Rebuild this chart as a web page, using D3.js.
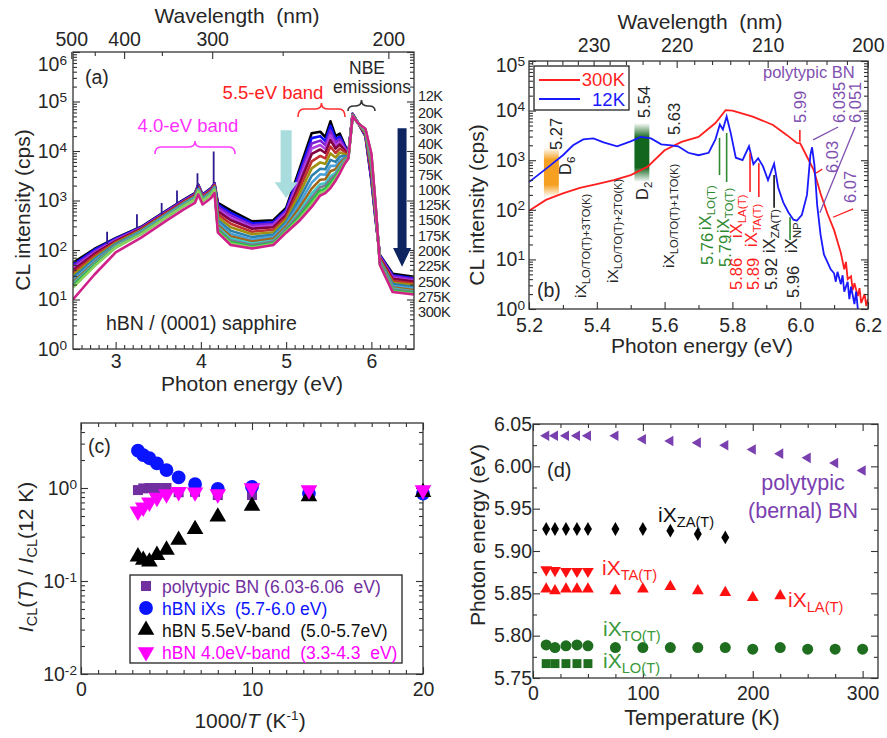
<!DOCTYPE html>
<html>
<head>
<meta charset="utf-8">
<script src="https://cdn.jsdelivr.net/npm/d3@7"></script>
<style>
body { margin: 0; background: #fff; }
svg { font-family: "Liberation Sans", Arial, sans-serif; }
svg text { white-space: pre; }
.ax path { display: none; }
.ax line { stroke: #333; stroke-width: 1.1; }
.ax text { font-size: 19.5px; font-family: "Liberation Sans", Arial, sans-serif; fill: #262626; }
</style>
</head>
<body>
<svg id="fig" width="887" height="738"></svg>
<script>
var INK = "#262626";
var GREEN = "#2f8a2f", RED = "#ff1f1f", PURPLE = "#8050b0";

// ---------- (a) temperature-dependent CL spectra, log10(cps) ----------
var tempLabels = ["12K", "20K", "30K", "40K", "50K", "75K", "100K", "125K", "150K", "175K", "200K", "225K", "250K", "275K", "300K"];
var tempColors = ["#000000", "#1010ff", "#8020d0", "#b040e0", "#800040", "#c03030", "#a09010", "#2c7fa8",
                  "#4aa0d8", "#a0661a", "#40c8c8", "#7a7a90", "#20c040", "#8ad060", "#d0208a"];
var energyA = [2.5, 2.75, 3.0, 3.3, 3.6, 3.8, 3.93, 3.97, 4.02, 4.12, 4.16, 4.2, 4.35, 4.6, 4.85, 5.0, 5.15,
               5.3, 5.4, 5.46, 5.52, 5.58, 5.63, 5.68, 5.73, 5.78, 5.85, 5.93, 6.0, 6.05, 6.1, 6.25, 6.5];
var cl12 = [1.74, 2.02, 2.24, 2.47, 2.8, 3.02, 3.15, 3.32, 3.12, 3.25, 3.35, 2.95, 2.8, 2.58, 2.6, 2.85, 3.6, 4.36, 4.39, 4.28, 4.6, 4.3, 4.35, 4.15, 3.95, 4.75, 4.55, 4.3, 3.4, 2.6, 1.9, 1.52, 1.46];
var cl20 = [1.70, 2.00, 2.23, 2.46, 2.79, 3.01, 3.14, 3.31, 3.11, 3.24, 3.34, 2.91, 2.75, 2.54, 2.56, 2.81, 3.53, 4.26, 4.30, 4.20, 4.51, 4.24, 4.29, 4.12, 3.94, 4.75, 4.55, 4.31, 3.44, 2.62, 1.89, 1.49, 1.43];
var cl30 = [1.67, 1.97, 2.21, 2.45, 2.78, 3.00, 3.13, 3.30, 3.10, 3.23, 3.33, 2.87, 2.70, 2.50, 2.53, 2.78, 3.46, 4.15, 4.21, 4.12, 4.41, 4.17, 4.24, 4.09, 3.94, 4.74, 4.55, 4.32, 3.48, 2.64, 1.87, 1.47, 1.41];
var cl40 = [1.63, 1.94, 2.20, 2.44, 2.77, 2.99, 3.12, 3.29, 3.09, 3.22, 3.32, 2.82, 2.65, 2.46, 2.50, 2.75, 3.39, 4.05, 4.12, 4.04, 4.32, 4.11, 4.18, 4.06, 3.93, 4.74, 4.55, 4.33, 3.52, 2.66, 1.86, 1.44, 1.38];
var cl50 = [1.59, 1.92, 2.18, 2.43, 2.76, 2.98, 3.11, 3.28, 3.08, 3.21, 3.31, 2.78, 2.60, 2.43, 2.46, 2.71, 3.31, 3.94, 4.03, 3.96, 4.22, 4.05, 4.13, 4.03, 3.92, 4.74, 4.55, 4.34, 3.55, 2.68, 1.84, 1.42, 1.36];
var cl75 = [1.54, 1.88, 2.16, 2.41, 2.75, 2.97, 3.10, 3.27, 3.07, 3.20, 3.30, 2.72, 2.53, 2.37, 2.41, 2.66, 3.21, 3.79, 3.90, 3.85, 4.09, 3.96, 4.05, 3.99, 3.91, 4.73, 4.55, 4.36, 3.61, 2.71, 1.82, 1.38, 1.32];
var cl100 = [1.49, 1.84, 2.14, 2.40, 2.73, 2.95, 3.08, 3.25, 3.05, 3.18, 3.28, 2.66, 2.46, 2.32, 2.36, 2.61, 3.11, 3.65, 3.77, 3.74, 3.95, 3.87, 3.97, 3.94, 3.90, 4.73, 4.55, 4.37, 3.66, 2.74, 1.80, 1.34, 1.29];
var cl125 = [1.44, 1.81, 2.12, 2.38, 2.72, 2.94, 3.07, 3.24, 3.04, 3.17, 3.27, 2.60, 2.39, 2.26, 2.31, 2.56, 3.01, 3.50, 3.64, 3.63, 3.82, 3.78, 3.89, 3.90, 3.89, 4.72, 4.55, 4.39, 3.72, 2.77, 1.78, 1.31, 1.25];
var cl150 = [1.39, 1.78, 2.10, 2.37, 2.71, 2.93, 3.06, 3.23, 3.03, 3.16, 3.26, 2.55, 2.33, 2.21, 2.27, 2.52, 2.92, 3.36, 3.53, 3.52, 3.70, 3.70, 3.81, 3.86, 3.88, 4.72, 4.55, 4.40, 3.77, 2.80, 1.77, 1.27, 1.22];
var cl175 = [1.35, 1.74, 2.09, 2.35, 2.69, 2.91, 3.04, 3.21, 3.01, 3.14, 3.24, 2.50, 2.28, 2.17, 2.23, 2.48, 2.84, 3.24, 3.42, 3.43, 3.59, 3.63, 3.75, 3.83, 3.88, 4.71, 4.55, 4.41, 3.81, 2.83, 1.75, 1.24, 1.19];
var cl200 = [1.32, 1.72, 2.08, 2.35, 2.69, 2.91, 3.04, 3.21, 3.01, 3.14, 3.24, 2.46, 2.23, 2.13, 2.19, 2.44, 2.76, 3.14, 3.33, 3.35, 3.49, 3.56, 3.69, 3.80, 3.87, 4.71, 4.55, 4.42, 3.85, 2.85, 1.74, 1.22, 1.16];
var cl225 = [1.29, 1.70, 2.06, 2.34, 2.68, 2.90, 3.03, 3.20, 3.00, 3.13, 3.23, 2.43, 2.19, 2.10, 2.17, 2.42, 2.71, 3.06, 3.27, 3.30, 3.43, 3.52, 3.65, 3.78, 3.86, 4.71, 4.55, 4.43, 3.88, 2.86, 1.73, 1.20, 1.15];
var cl250 = [1.27, 1.69, 2.05, 2.33, 2.67, 2.89, 3.02, 3.19, 2.99, 3.12, 3.22, 2.40, 2.16, 2.07, 2.14, 2.39, 2.66, 2.99, 3.20, 3.24, 3.36, 3.47, 3.61, 3.75, 3.86, 4.70, 4.55, 4.44, 3.91, 2.88, 1.72, 1.18, 1.13];
var cl275 = [1.24, 1.67, 2.05, 2.32, 2.67, 2.89, 3.02, 3.19, 2.99, 3.12, 3.22, 2.37, 2.13, 2.05, 2.12, 2.37, 2.62, 2.93, 3.15, 3.19, 3.30, 3.44, 3.58, 3.74, 3.85, 4.70, 4.55, 4.44, 3.93, 2.89, 1.71, 1.16, 1.11];
var cl300 = [1.0, 1.5, 1.95, 2.25, 2.6, 2.82, 2.95, 3.12, 2.92, 3.05, 3.15, 2.35, 2.1, 2.03, 2.1, 2.35, 2.58, 2.87, 3.1, 3.15, 3.25, 3.4, 3.55, 3.72, 3.85, 4.7, 4.55, 4.45, 3.95, 2.9, 1.7, 1.15, 1.1];
var spectraA = [cl12, cl20, cl30, cl40, cl50, cl75, cl100, cl125, cl150, cl175, cl200, cl225, cl250, cl275, cl300];
// narrow spikes on the low-energy side
var spikeE = [2.9, 3.25, 3.54, 3.72, 3.96, 4.15];
var spikeBase = [2.12, 2.45, 2.72, 2.95, 3.25, 3.35];
var spikeTop = [2.37, 2.72, 2.95, 3.2, 3.55, 3.99];
var nmTicksA = [500, 400, 300, 200];

// ---------- (b) 12K vs 300K ----------
var blueE = [5.2, 5.23, 5.26, 5.3, 5.33, 5.36, 5.39, 5.42, 5.46, 5.5, 5.53, 5.56, 5.59, 5.62, 5.64, 5.67, 5.7, 5.73, 5.75,
             5.763, 5.772, 5.783, 5.795, 5.81, 5.83, 5.849, 5.862, 5.876, 5.89, 5.905, 5.923, 5.935, 5.95, 5.965, 5.98,
             5.99, 6.005, 6.02, 6.03, 6.035, 6.042, 6.05, 6.06, 6.07, 6.08, 6.09, 6.1, 6.105, 6.11, 6.12, 6.125, 6.13,
             6.14, 6.145, 6.15, 6.16, 6.165, 6.17];
var blueI = [2.56, 2.72, 2.88, 3.1, 3.3, 3.42, 3.44, 3.36, 3.28, 3.38, 3.47, 3.44, 3.32, 3.3, 3.28, 3.15, 3.1, 3.15, 3.42,
             3.72, 3.62, 3.88, 3.55, 3.05, 3.0, 3.28, 2.92, 3.04, 2.88, 2.6, 2.93, 2.45, 2.15, 1.95, 1.8,
             1.78, 1.9, 2.3, 3.1, 3.26, 2.9, 2.1, 1.5, 1.1, 0.95, 0.8, 0.72, 0.55, 0.75, 0.5, 0.68, 0.35,
             0.55, 0.2, 0.45, 0.1, 0.35, 0.0];
var redE = [5.2, 5.25, 5.3, 5.35, 5.4, 5.45, 5.5, 5.55, 5.6, 5.65, 5.7, 5.75, 5.78, 5.8, 5.83, 5.86, 5.92, 5.96, 5.99,
            6.0, 6.02, 6.04, 6.06, 6.08, 6.1, 6.12, 6.13, 6.135, 6.14, 6.15, 6.155, 6.16, 6.17, 6.175, 6.18, 6.19, 6.195, 6.2];
var redI = [1.98, 2.2, 2.33, 2.44, 2.52, 2.6, 2.7, 2.87, 3.2, 3.37, 3.47, 3.75, 4.01, 4.0, 3.94, 3.88, 3.71, 3.51, 3.35,
            3.34, 3.07, 2.8, 2.33, 1.93, 1.59, 1.13, 0.8, 0.95, 0.6, 0.66, 0.38, 0.52, 0.26, 0.42, 0.12, 0.3, 0.06, 0.2];
var nmTicksB = [230, 220, 210, 200];

// ---------- (c) normalised intensity vs 1000/T ----------
var invT = [3.33, 3.64, 4.0, 4.44, 5.0, 5.71, 6.67, 8.0, 10.0, 13.33, 20.0];
var ratioPoly = [0.95, 0.99, 1.0, 1.0, 1.0, 0.9, 0.91, 0.84, 0.84, 0.9, 0.91];
var ratioIX = [2.52, 2.26, 2.09, 1.84, 1.56, 1.30, 1.10, 0.98, 1.03, 0.88, 0.87];
var ratio55 = [0.183, 0.168, 0.161, 0.19, 0.216, 0.276, 0.36, 0.49, 0.64, 0.81, 0.9];
var ratio40 = [0.56, 0.62, 0.70, 0.79, 0.86, 0.91, 0.90, 0.86, 1.0, 0.95, 0.95];

// ---------- (d) peak energies vs temperature ----------
var tempD = [12, 20, 30, 40, 50, 75, 100, 125, 150, 175, 200, 225, 250, 275, 300];
var ePoly = [6.036, 6.036, 6.036, 6.036, 6.036, 6.036, 6.032, 6.030, 6.028, 6.025, 6.020, 6.015, 6.010, 6.004, 5.995];
var eZA = [5.926, 5.926, 5.926, 5.926, 5.926, 5.926, 5.926, 5.924, 5.920, 5.916];
var eTA = [5.878, 5.877, 5.876, 5.876, 5.876];
var eLA = [5.855, 5.853, 5.855, 5.855, 5.855, 5.853, 5.855, 5.858, 5.853, 5.851, 5.845, 5.847];
var eTO = [5.789, 5.786, 5.788, 5.789, 5.788, 5.786, 5.786, 5.786, 5.786, 5.786, 5.784, 5.786, 5.784, 5.784, 5.784];
var eLO = [5.767, 5.767, 5.767, 5.767, 5.767];

var svg = d3.select("#fig");
var nm2eV = function (nm) { return 1239.84 / nm; };

function logMinor(lo, hi) {
    var out = [];
    for (var d = Math.floor(Math.log10(lo)); d <= Math.ceil(Math.log10(hi)); d++) {
        for (var k = 2; k <= 9; k++) {
            var v = k * Math.pow(10, d);
            if (v > lo && v < hi) out.push(v);
        }
    }
    return out;
}

function ax(gen, tx, ty) {
    return svg.append("g").attr("class", "ax").attr("transform", "translate(" + tx + "," + ty + ")").call(gen);
}

// inward ticks on all four sides plus the frame
function frame(x, y, o) {
    var x0 = x.range()[0], x1 = x.range()[1], y0 = y.range()[0], y1 = y.range()[1];
    ax(d3.axisBottom(x).tickValues(o.xMajor).tickSize(-7).tickPadding(o.xPad || 8).tickFormat(o.xFmt || ""), 0, y0);
    ax(d3.axisBottom(x).tickValues(o.xMinor).tickSize(-4).tickFormat(""), 0, y0);
    if (!o.topOwn) {
        ax(d3.axisTop(x).tickValues(o.xMajor).tickSize(-7).tickFormat(""), 0, y1);
        ax(d3.axisTop(x).tickValues(o.xMinor).tickSize(-4).tickFormat(""), 0, y1);
    }
    ax(d3.axisLeft(y).tickValues(o.yMajor).tickSize(-7).tickPadding(o.yPad || 3).tickFormat(o.yFmt || ""), x0, 0);
    ax(d3.axisLeft(y).tickValues(o.yMinor).tickSize(-4).tickFormat(""), x0, 0);
    ax(d3.axisRight(y).tickValues(o.yMajor).tickSize(-7).tickFormat(""), x1, 0);
    ax(d3.axisRight(y).tickValues(o.yMinor).tickSize(-4).tickFormat(""), x1, 0);
    svg.append("rect").attr("x", x0).attr("y", y1).attr("width", x1 - x0).attr("height", y0 - y1)
        .attr("fill", "none").attr("stroke", "#333").attr("stroke-width", 1.3);
}

function powLabels(y, xr, exps, shift) {
    exps.forEach(function (e) {
        var t = svg.append("text").attr("x", xr).attr("y", y(Math.pow(10, e)) + (shift && shift[e] || 0))
            .attr("dy", "0.35em").attr("text-anchor", "end").attr("font-size", 19.5).attr("fill", INK);
        t.append("tspan").text("10");
        t.append("tspan").attr("dy", "-0.45em").attr("font-size", "0.7em").text(e < 0 ? "-" + (-e) : e);
    });
}

function text(x, y, s, size, color, anchor) {
    return svg.append("text").attr("x", x).attr("y", y).attr("font-size", size).attr("fill", color || INK)
        .attr("text-anchor", anchor || "start").text(s);
}

function vtext(cx, cy, s, size) {
    return svg.append("text").attr("x", cx).attr("y", cy).attr("dy", "0.35em").attr("text-anchor", "middle")
        .attr("transform", "rotate(-90," + cx + "," + cy + ")").attr("font-size", size).attr("fill", INK).text(s);
}

function subText(x, y, main, sub, size, color, rotate, ratio) {
    var t = svg.append("text").attr("x", x).attr("y", y).attr("font-size", size).attr("fill", color || INK);
    if (rotate) t.attr("transform", "rotate(-90," + x + "," + y + ")");
    t.append("tspan").text(main);
    t.append("tspan").attr("dy", "0.32em").attr("font-size", (ratio || 0.7) + "em").text(sub);
    return t;
}

function brace(x1, x2, y, h, color) {
    var xm = (x1 + x2) / 2, r = 6, t = 6;
    var p = "M" + x1 + "," + (y + h) + " Q" + x1 + "," + y + " " + (x1 + r) + "," + y + " L" + (xm - r) + "," + y +
        " Q" + xm + "," + y + " " + xm + "," + (y - t) + " Q" + xm + "," + y + " " + (xm + r) + "," + y +
        " L" + (x2 - r) + "," + y + " Q" + x2 + "," + y + " " + x2 + "," + (y + h);
    svg.append("path").attr("d", p).attr("fill", "none").attr("stroke", color).attr("stroke-width", 1.6);
}

function arrow(xc, yTop, yHead, yTip, ws, wh, color) {
    var pts = [[xc - ws / 2, yTop], [xc + ws / 2, yTop], [xc + ws / 2, yHead], [xc + wh / 2, yHead], [xc, yTip],
               [xc - wh / 2, yHead], [xc - ws / 2, yHead]];
    svg.append("polygon").attr("points", pts.map(function (p) { return p.join(","); }).join(" ")).attr("fill", color);
}

function clip(id, x, y) {
    svg.append("clipPath").attr("id", id).append("rect")
        .attr("x", x.range()[0]).attr("y", y.range()[1])
        .attr("width", x.range()[1] - x.range()[0]).attr("height", y.range()[0] - y.range()[1]);
}

// =============== panel (a) ===============
var xA = d3.scaleLinear().domain([2.5, 6.5]).range([73, 414]);
var yA = d3.scaleLog().domain([1, 1e6]).range([349, 52]);
clip("clipA", xA, yA);

var gA = svg.append("g").attr("clip-path", "url(#clipA)");
var lineA = d3.line().x(function (d, i) { return xA(energyA[i]); }).y(function (d) { return yA(Math.pow(10, d)); });
spectraA.forEach(function (s, i) {
    gA.append("path").attr("d", lineA(s)).attr("fill", "none").attr("stroke", tempColors[i])
        .attr("stroke-width", 2.6).attr("stroke-linejoin", "round");
});
spikeE.forEach(function (e, i) {
    gA.append("line").attr("x1", xA(e)).attr("x2", xA(e))
        .attr("y1", yA(Math.pow(10, spikeBase[i]))).attr("y2", yA(Math.pow(10, spikeTop[i])))
        .attr("stroke", "#2a1a90").attr("stroke-width", 1.8);
});

frame(xA, yA, {
    xMajor: [3, 4, 5, 6], xMinor: d3.range(26, 65).filter(function (v) { return v % 10 !== 0; }).map(function (v) { return v / 10; }),
    xFmt: d3.format("d"), xPad: 5,
    yMajor: d3.range(0, 7).map(function (e) { return Math.pow(10, e); }), yMinor: logMinor(1, 1e6), topOwn: true
});
ax(d3.axisTop(xA).tickValues(nmTicksA.map(nm2eV)).tickSize(-7).tickPadding(6)
    .tickFormat(function (d, i) { return nmTicksA[i]; }), 0, 52);
ax(d3.axisTop(xA).tickValues([450, 350, 250].map(nm2eV)).tickSize(-4).tickFormat(""), 0, 52);
powLabels(yA, 67, [0, 1, 2, 3, 4, 5, 6], { 6: 12 });

text(237, 23, "Wavelength  (nm)", 21, INK, "middle");
text(252, 391, "Photon energy (eV)", 21, INK, "middle");
vtext(23, 210, "CL intensity (cps)", 21);
text(85, 84, "(a)", 19.5);
text(106, 330, "hBN / (0001) sapphire", 19.5);

arrow(xA(5.0), yA(Math.pow(10, 4.42)), yA(Math.pow(10, 3.37)), yA(Math.pow(10, 3.05)), 11, 23, "#a9dcdc");
arrow(xA(6.36), yA(Math.pow(10, 4.46)), yA(Math.pow(10, 2.04)), yA(Math.pow(10, 1.66)), 9, 18, "#0d2460");

brace(155, 235, 147, 7, "#ff40ff");
text(188, 132, "4.0-eV band", 18.5, "#ff30ff", "middle");
brace(298, 345, 109, 8, "#ff3030");
text(273, 99, "5.5-eV band", 18.5, "#ff2020", "middle");
brace(348, 375, 106, 5, "#333");
text(367, 74, "NBE", 17.5, INK, "middle");
text(372, 93, "emissions", 17.5, INK, "middle");

tempLabels.forEach(function (t, i) {
    text(418, 102 + i * 15.3 + (i === 0 ? -1 : 1), t, 14.5, INK).attr("letter-spacing", -0.4);
});

// =============== panel (b) ===============
var xB = d3.scaleLinear().domain([5.2, 6.2]).range([529, 868]);
var yB = d3.scaleLog().domain([1, 1e5]).range([309, 61]);
clip("clipB", xB, yB);
var defs = svg.append("defs");
function vGrad(id, color) {
    var g = defs.append("linearGradient").attr("id", id).attr("x1", 0).attr("y1", 0).attr("x2", 0).attr("y2", 1);
    [[0, 0], [0.25, 1], [0.75, 1], [1, 0]].forEach(function (s) {
        g.append("stop").attr("offset", s[0]).attr("stop-color", color).attr("stop-opacity", s[1]);
    });
}
vGrad("gOrange", "#f5a020");
vGrad("gGreen", "#12661e");
var bands = [{ e: 5.266, lo: 2.26, hi: 3.25, fill: "url(#gOrange)" }, { e: 5.533, lo: 2.56, hi: 3.75, fill: "url(#gGreen)" }];
bands.forEach(function (b) {
    svg.append("rect").attr("x", xB(b.e - 0.022)).attr("width", xB(b.e + 0.022) - xB(b.e - 0.022))
        .attr("y", yB(Math.pow(10, b.hi))).attr("height", yB(Math.pow(10, b.lo)) - yB(Math.pow(10, b.hi)))
        .attr("fill", b.fill);
});

var gB = svg.append("g").attr("clip-path", "url(#clipB)");
var lineB = function (E) {
    return d3.line().x(function (d, i) { return xB(E[i]); }).y(function (d) { return yB(Math.pow(10, d)); });
};
gB.append("path").attr("d", lineB(redE)(redI)).attr("fill", "none").attr("stroke", RED).attr("stroke-width", 1.8);
gB.append("path").attr("d", lineB(blueE)(blueI)).attr("fill", "none").attr("stroke", "#1a1aff").attr("stroke-width", 1.8);

frame(xB, yB, {
    xMajor: [5.2, 5.4, 5.6, 5.8, 6.0, 6.2], xMinor: [5.3, 5.5, 5.7, 5.9, 6.1], xFmt: d3.format(".1f"), xPad: 9,
    yMajor: d3.range(0, 6).map(function (e) { return Math.pow(10, e); }), yMinor: logMinor(1, 1e5), topOwn: true
});
ax(d3.axisTop(xB).tickValues(nmTicksB.map(nm2eV)).tickSize(-7).tickPadding(9)
    .tickFormat(function (d, i) { return nmTicksB[i]; }), 0, 61);
ax(d3.axisTop(xB).tickValues(d3.range(202, 239, 2).filter(function (v) { return v % 10 !== 0; }).map(nm2eV))
    .tickSize(-4).tickFormat(""), 0, 61);
powLabels(yB, 525, [0, 1, 2, 3, 4, 5], { 5: 4 });

text(700, 29, "Wavelength  (nm)", 21, INK, "middle");
text(702, 353, "Photon energy (eV)", 21, INK, "middle");
vtext(477, 205, "CL intensity (cps)", 21);
text(537, 297, "(b)", 19.5);

// legend (b)
svg.append("rect").attr("x", 534).attr("y", 66).attr("width", 95).attr("height", 44)
    .attr("fill", "#fff").attr("stroke", "#222").attr("stroke-width", 1.3);
svg.append("line").attr("x1", 539).attr("x2", 580).attr("y1", 80).attr("y2", 80).attr("stroke", RED).attr("stroke-width", 1.8);
svg.append("line").attr("x1", 539).attr("x2", 580).attr("y1", 99).attr("y2", 99).attr("stroke", "#1a1aff").attr("stroke-width", 1.8);
text(625, 86, "300K", 18.5, RED, "end");
text(625, 106, "12K", 18.5, "#1a1aff", "end");
text(763, 78, "polytypic BN", 16.5, PURPLE);

// marker lines [E, logTop, logBottom, colour]
var markE = [5.762, 5.783, 5.852, 5.878, 5.923, 5.97, 5.999];
var markTop = [3.45, 3.55, 3.15, 2.94, 2.7, 1.85, 3.61];
var markBot = [2.70, 2.56, 2.36, 2.26, 2.04, 1.39, 3.37];
var markCol = [GREEN, GREEN, RED, RED, "#111", GREEN, RED];
markE.forEach(function (e, i) {
    svg.append("line").attr("x1", xB(e)).attr("x2", xB(e))
        .attr("y1", yB(Math.pow(10, markTop[i]))).attr("y2", yB(Math.pow(10, markBot[i])))
        .attr("stroke", markCol[i]).attr("stroke-width", 1.6);
});
// slanted leaders [E1, log1, E2, log2, colour]
var leaders = [[6.038, 3.41, 6.112, 3.67, PURPLE], [6.058, 1.94, 6.162, 3.67, PURPLE],
               [6.047, 2.74, 6.065, 2.82, RED], [6.097, 1.85, 6.156, 2.02, RED]];
leaders.forEach(function (l) {
    svg.append("line").attr("x1", xB(l[0])).attr("y1", yB(Math.pow(10, l[1])))
        .attr("x2", xB(l[2])).attr("y2", yB(Math.pow(10, l[3]))).attr("stroke", l[4]).attr("stroke-width", 1.3);
});

// rotated peak energies [text, baseline x, bottom y, colour]
var peakNums = [["5.27", 562, 150, INK], ["5.54", 650, 118, INK], ["5.63", 680, 135, INK],
                ["5.76", 713, 265, GREEN], ["5.79", 731, 267, GREEN], ["5.86", 742, 290, RED],
                ["5.89", 759, 290, RED], ["5.92", 777, 290, INK], ["5.96", 799, 298, INK],
                ["5.99", 806, 123, PURPLE], ["6.035", 845, 123, PURPLE], ["6.051", 861, 123, PURPLE],
                ["6.03", 838, 173, PURPLE], ["6.07", 856, 203, PURPLE]];
peakNums.forEach(function (p) {
    text(p[1], p[2], p[0], 16.5, p[3]).attr("transform", "rotate(-90," + p[1] + "," + p[2] + ")");
});
var peakLabels = [["D", "6", 571, 175, INK, 16.5, 0.7], ["D", "2", 648, 200, INK, 16.5, 0.7],
                  ["iX", "LO/TO(T)+3TO(K)", 586, 298, INK, 15.5, 0.72], ["iX", "LO/TO(T)+2TO(K)", 618, 283, INK, 15.5, 0.72],
                  ["iX", "LO/TO(T)+1TO(K)", 674, 268, INK, 15.5, 0.72],
                  ["iX", "LO(T)", 711, 230, GREEN, 16.5, 0.7], ["iX", "TO(T)", 729, 233, GREEN, 16.5, 0.7],
                  ["iX", "LA(T)", 742, 238, RED, 16.5, 0.7], ["iX", "TA(T)", 757, 247, RED, 16.5, 0.7],
                  ["iX", "ZA(T)", 775, 253, INK, 16.5, 0.7], ["iX", "NP", 797, 253, INK, 16.5, 0.7]];
peakLabels.forEach(function (p) { subText(p[2], p[3], p[0], p[1], p[5], p[4], true, p[6]); });

// =============== panel (c) ===============
var xC = d3.scaleLinear().domain([0, 20]).range([81, 423]);
var yC = d3.scaleLog().domain([0.01, 5]).range([674, 423]);
frame(xC, yC, {
    xMajor: [0, 10, 20], xMinor: d3.range(1, 20).filter(function (v) { return v % 10 !== 0; }),
    xFmt: d3.format("d"), xPad: 8, yMajor: [0.01, 0.1, 1], yMinor: logMinor(0.01, 5)
});
powLabels(yC, 77, [-2, -1, 0]);

var seriesC = [
    { v: ratioPoly, sym: d3.symbolSquare, size: 100, rot: 0, col: "#7030a0", label: "polytypic BN (6.03-6.06  eV)" },
    { v: ratioIX, sym: d3.symbolCircle, size: 150, rot: 0, col: "#0a14ff", label: "hBN iXs  (5.7-6.0 eV)" },
    { v: ratio55, sym: d3.symbolTriangle, size: 120, rot: 0, col: "#000", label: "hBN 5.5eV-band  (5.0-5.7eV)" },
    { v: ratio40, sym: d3.symbolTriangle, size: 120, rot: 180, col: "#ff00ff", label: "hBN 4.0eV-band  (3.3-4.3  eV)" }
];
seriesC.forEach(function (s) {
    svg.append("g").selectAll("path").data(s.v).join("path")
        .attr("d", d3.symbol().type(s.sym).size(s.size))
        .attr("transform", function (d, i) {
            return "translate(" + xC(invT[i]) + "," + yC(d) + ") rotate(" + s.rot + ")";
        })
        .attr("fill", s.col);
});
text(88, 453, "(c)", 19.5);

svg.append("rect").attr("x", 130).attr("y", 575).attr("width", 272).attr("height", 88)
    .attr("fill", "#fff").attr("stroke", "#222").attr("stroke-width", 1.3);
seriesC.forEach(function (s, i) {
    var ly = 586 + i * 22;
    svg.append("path").attr("d", d3.symbol().type(s.sym).size(s.size))
        .attr("transform", "translate(146," + ly + ") rotate(" + s.rot + ")").attr("fill", s.col);
    text(162, ly + 6.5, s.label, 17.5, s.col === "#000" ? "#111" : s.col);
});

// y title with italic I and T
var yt = svg.append("text").attr("transform", "translate(33,557) rotate(-90)").attr("text-anchor", "middle")
    .attr("font-size", 21).attr("fill", INK);
yt.append("tspan").attr("font-style", "italic").text("I");
yt.append("tspan").attr("font-size", 14.5).attr("dy", 4).text("CL");
yt.append("tspan").attr("dy", -4).text("(");
yt.append("tspan").attr("font-style", "italic").text("T");
yt.append("tspan").text(") / ");
yt.append("tspan").attr("font-style", "italic").text("I");
yt.append("tspan").attr("font-size", 14.5).attr("dy", 4).text("CL");
yt.append("tspan").attr("dy", -4).text("(12 K)");

var xt = svg.append("text").attr("x", 250).attr("y", 728).attr("text-anchor", "middle").attr("font-size", 21).attr("fill", INK);
xt.append("tspan").text("1000/");
xt.append("tspan").attr("font-style", "italic").text("T");
xt.append("tspan").text(" (K");
xt.append("tspan").attr("dy", -8).attr("font-size", 13.5).text("-1");
xt.append("tspan").attr("dy", 8).text(")");

// =============== panel (d) ===============
var xD = d3.scaleLinear().domain([0, 314]).range([533, 878]);
var yD = d3.scaleLinear().domain([5.75, 6.05]).range([678, 424]);
frame(xD, yD, {
    xMajor: [0, 100, 200, 300], xMinor: d3.range(25, 314, 25).filter(function (v) { return v % 100 !== 0; }),
    xFmt: d3.format("d"), xPad: 8,
    yMajor: [5.75, 5.8, 5.85, 5.9, 5.95, 6.0, 6.05], yMinor: [5.775, 5.825, 5.875, 5.925, 5.975, 6.025],
    yFmt: d3.format(".2f"), yPad: 1
});

var DG = "#1f6e1f";
var seriesD = [
    { v: ePoly, sym: d3.symbolTriangle, size: 48, rot: -90, col: "#7a40b0" },
    { v: eZA, sym: d3.symbolDiamond, size: 55, rot: 0, col: "#000" },
    { v: eTA, sym: d3.symbolTriangle, size: 60, rot: 180, col: "#ff1010" },
    { v: eLA, sym: d3.symbolTriangle, size: 60, rot: 0, col: "#ff1010" },
    { v: eTO, sym: d3.symbolCircle, size: 95, rot: 0, col: DG },
    { v: eLO, sym: d3.symbolSquare, size: 80, rot: 0, col: DG }
];
seriesD.forEach(function (s) {
    svg.append("g").selectAll("path").data(s.v).join("path")
        .attr("d", d3.symbol().type(s.sym).size(s.size))
        .attr("transform", function (d, i) {
            return "translate(" + xD(tempD[i]) + "," + yD(d) + ") rotate(" + s.rot + ")";
        })
        .attr("fill", s.col);
});

text(547, 477, "(d)", 20);
text(803, 490, "polytypic", 21.5, "#7a40b0", "middle");
text(803, 518, "(bernal) BN", 21.5, "#7a40b0", "middle");
subText(658, 522, "iX", "ZA(T)", 21, "#111");
subText(602, 575, "iX", "TA(T)", 21, "#ff1f1f");
subText(788, 607, "iX", "LA(T)", 21, "#ff1f1f");
subText(603, 636, "iX", "TO(T)", 21, "#3a9a3a");
subText(603, 668, "iX", "LO(T)", 21, "#3a9a3a");

text(702, 725, "Temperature (K)", 21.5, INK, "middle");
vtext(478, 535, "Photon energy (eV)", 21);
</script>
</body>
</html>
